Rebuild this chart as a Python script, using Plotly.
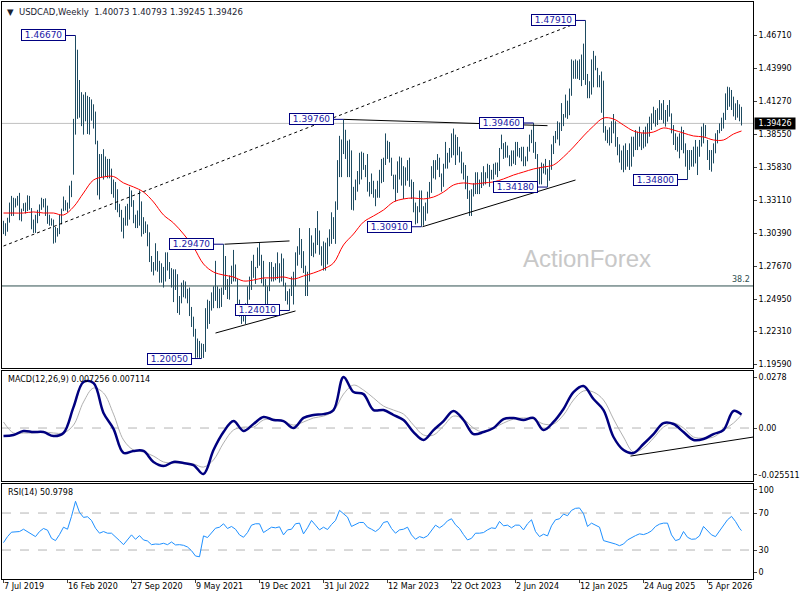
import plotly.graph_objects as go

# weekly bars, one per week starting 7 Jul 2019 (bar index 0)
high = [
    1.3140, 1.3120, 1.3165, 1.3290, 1.3345, 1.3330, 1.3325, 1.3345, 1.3370, 1.3240,
    1.3285, 1.3290, 1.3350, 1.3345, 1.3245, 1.3150, 1.3190, 1.3230, 1.3275, 1.3330,
    1.3320, 1.3325, 1.3265, 1.3190, 1.3160, 1.3150, 1.3090, 1.3080, 1.3190, 1.3240,
    1.3340, 1.3310, 1.3290, 1.3430, 1.3470, 1.3980, 1.4667, 1.4550, 1.4300, 1.4200,
    1.4180, 1.4200, 1.4170, 1.4160, 1.4140, 1.4100, 1.4040, 1.3800, 1.3690, 1.3690,
    1.3730, 1.3670, 1.3650, 1.3650, 1.3570, 1.3480, 1.3460, 1.3400, 1.3280, 1.3230,
    1.3165, 1.3260, 1.3280, 1.3420, 1.3390, 1.3310, 1.3190, 1.3225, 1.3390, 1.3300,
    1.3170, 1.3135, 1.3110, 1.3045, 1.2850, 1.2800, 1.2955, 1.2890, 1.2810, 1.2790,
    1.2760, 1.2880, 1.2880, 1.2800, 1.2750, 1.2740, 1.2740, 1.2700, 1.2520, 1.2630,
    1.2650, 1.2640, 1.2580, 1.2590, 1.2430, 1.2350, 1.2250, 1.2170, 1.2150, 1.2130,
    1.2125, 1.2420, 1.2490, 1.2480, 1.2550, 1.2600, 1.2810, 1.2600, 1.2580, 1.2590,
    1.2947, 1.2850, 1.2660, 1.2690, 1.2770, 1.2900, 1.2780, 1.2660, 1.2490, 1.2415,
    1.2420, 1.2460, 1.2600, 1.2680, 1.2810, 1.2860, 1.2760, 1.2920, 1.2960, 1.2860,
    1.2810, 1.2660, 1.2600, 1.2800, 1.2800, 1.2760, 1.2790, 1.2880, 1.2790, 1.2870,
    1.2830, 1.2630, 1.2560, 1.2580, 1.2680, 1.2720, 1.2880, 1.2930, 1.3080, 1.2990,
    1.2890, 1.2770, 1.2720, 1.3080, 1.3020, 1.2960, 1.3080, 1.3220, 1.3060, 1.2930,
    1.2970, 1.2960, 1.3000, 1.3070, 1.3210, 1.3170, 1.3300, 1.3640, 1.3840, 1.3810,
    1.3976, 1.3890, 1.3800, 1.3810, 1.3720, 1.3420, 1.3480, 1.3550, 1.3700, 1.3710,
    1.3700, 1.3600, 1.3690, 1.3460, 1.3530, 1.3470, 1.3400, 1.3470, 1.3560, 1.3650,
    1.3660, 1.3860, 1.3800, 1.3790, 1.3660, 1.3520, 1.3520, 1.3630, 1.3670, 1.3660,
    1.3590, 1.3580, 1.3640, 1.3660, 1.3480, 1.3460, 1.3290, 1.3260, 1.3390, 1.3390,
    1.3260, 1.3290, 1.3380, 1.3460, 1.3590, 1.3640, 1.3640, 1.3690, 1.3660, 1.3530,
    1.3610, 1.3790, 1.3700, 1.3740, 1.3860, 1.3900, 1.3850, 1.3830, 1.3750, 1.3710,
    1.3620, 1.3600, 1.3510, 1.3390, 1.3400, 1.3450, 1.3540, 1.3540, 1.3480, 1.3540,
    1.3590, 1.3540, 1.3610, 1.3600, 1.3560, 1.3610, 1.3620, 1.3620, 1.3740, 1.3850,
    1.3780, 1.3790, 1.3760, 1.3680, 1.3720, 1.3720, 1.3790, 1.3790, 1.3740, 1.3750,
    1.3750, 1.3670, 1.3750, 1.3850, 1.3890, 1.3946, 1.3790, 1.3690, 1.3580, 1.3620,
    1.3610, 1.3650, 1.3570, 1.3640, 1.3770, 1.3840, 1.3880, 1.3960, 1.3950, 1.4110,
    1.4020, 1.4180, 1.4130, 1.4230, 1.4470, 1.4460, 1.4470, 1.4460, 1.4470, 1.4510,
    1.4600, 1.4791, 1.4350, 1.4290, 1.4470, 1.4540, 1.4500, 1.4400, 1.4340, 1.4370,
    1.4295, 1.3920, 1.3890, 1.3910, 1.3960, 1.4020, 1.3960, 1.3830, 1.3770, 1.3720,
    1.3760, 1.3778, 1.3723, 1.3778, 1.3833, 1.3833, 1.3888, 1.3874, 1.3916, 1.3861,
    1.3888, 1.3916, 1.3943, 1.3998, 1.4025, 1.4080, 1.4053, 1.4067, 1.4135, 1.4108,
    1.4135, 1.4053, 1.4094, 1.4135, 1.4025, 1.3929, 1.3861, 1.3833, 1.3861, 1.3916,
    1.3888, 1.3778, 1.3723, 1.3723, 1.3723, 1.3751, 1.3806, 1.3751, 1.3806, 1.3916,
    1.3943, 1.3929, 1.3806, 1.3723, 1.3723, 1.3778, 1.3861, 1.3888, 1.3943, 1.3990,
    1.4030, 1.4190, 1.4245, 1.4240, 1.4218, 1.4163, 1.4108, 1.4135, 1.4100, 1.4079,
]
low = [
    1.3030, 1.3016, 1.3050, 1.3125, 1.3180, 1.3180, 1.3250, 1.3265, 1.3145, 1.3135,
    1.3220, 1.3200, 1.3220, 1.3230, 1.3070, 1.3040, 1.3040, 1.3120, 1.3180, 1.3230,
    1.3250, 1.3180, 1.3115, 1.3100, 1.3100, 1.2952, 1.2960, 1.3010, 1.3030, 1.3110,
    1.3220, 1.3225, 1.3210, 1.3240, 1.3335, 1.3520, 1.3850, 1.3980, 1.3990, 1.3920,
    1.3850, 1.3960, 1.3855, 1.3850, 1.3965, 1.3900, 1.3770, 1.3350, 1.3315, 1.3500,
    1.3480, 1.3500, 1.3490, 1.3490, 1.3360, 1.3330, 1.3230, 1.3210, 1.3170, 1.3050,
    1.2995, 1.3100, 1.3100, 1.3150, 1.3255, 1.3120, 1.3080, 1.3080, 1.3100, 1.3010,
    1.3030, 1.3040, 1.2930, 1.2800, 1.2720, 1.2690, 1.2730, 1.2720, 1.2630, 1.2630,
    1.2590, 1.2640, 1.2730, 1.2660, 1.2590, 1.2470, 1.2570, 1.2380, 1.2365, 1.2460,
    1.2510, 1.2500, 1.2460, 1.2355, 1.2265, 1.2185, 1.2010, 1.2012, 1.2010, 1.2005,
    1.2010, 1.2060, 1.2250, 1.2290, 1.2400, 1.2420, 1.2480, 1.2420, 1.2420, 1.2430,
    1.2530, 1.2570, 1.2495, 1.2490, 1.2620, 1.2640, 1.2640, 1.2450, 1.2350, 1.2290,
    1.2310, 1.2290, 1.2420, 1.2490, 1.2570, 1.2670, 1.2620, 1.2750, 1.2770, 1.2625,
    1.2600, 1.2450, 1.2450, 1.2560, 1.2640, 1.2640, 1.2650, 1.2660, 1.2630, 1.2640,
    1.2600, 1.2480, 1.2450, 1.2401, 1.2520, 1.2450, 1.2600, 1.2770, 1.2860, 1.2750,
    1.2710, 1.2520, 1.2520, 1.2640, 1.2850, 1.2840, 1.2870, 1.2940, 1.2860, 1.2770,
    1.2730, 1.2730, 1.2780, 1.2930, 1.2950, 1.2990, 1.2950, 1.3230, 1.3500, 1.3500,
    1.3690, 1.3650, 1.3500, 1.3500, 1.3230, 1.3225, 1.3310, 1.3380, 1.3440, 1.3480,
    1.3560, 1.3500, 1.3380, 1.3340, 1.3360, 1.3330, 1.3260, 1.3330, 1.3330, 1.3450,
    1.3460, 1.3600, 1.3650, 1.3620, 1.3510, 1.3400, 1.3300, 1.3370, 1.3480, 1.3430,
    1.3320, 1.3430, 1.3470, 1.3420, 1.3320, 1.3210, 1.3110, 1.3120, 1.3210, 1.3091,
    1.3100, 1.3140, 1.3200, 1.3330, 1.3370, 1.3490, 1.3480, 1.3560, 1.3500, 1.3380,
    1.3420, 1.3570, 1.3570, 1.3620, 1.3660, 1.3680, 1.3600, 1.3680, 1.3620, 1.3530,
    1.3480, 1.3400, 1.3320, 1.3180, 1.3180, 1.3340, 1.3360, 1.3360, 1.3360, 1.3410,
    1.3430, 1.3440, 1.3490, 1.3420, 1.3480, 1.3480, 1.3520, 1.3500, 1.3550, 1.3730,
    1.3650, 1.3660, 1.3660, 1.3590, 1.3590, 1.3610, 1.3600, 1.3670, 1.3660, 1.3630,
    1.3590, 1.3590, 1.3630, 1.3710, 1.3780, 1.3700, 1.3650, 1.3440, 1.3440, 1.3440,
    1.3530, 1.3520, 1.3418, 1.3470, 1.3560, 1.3690, 1.3780, 1.3810, 1.3760, 1.3880,
    1.3920, 1.3990, 1.3980, 1.4010, 1.4170, 1.4310, 1.4310, 1.4310, 1.4300, 1.4250,
    1.4300, 1.4260, 1.4150, 1.4150, 1.4180, 1.4240, 1.4380, 1.4240, 1.4240, 1.4030,
    1.3866, 1.3800, 1.3780, 1.3760, 1.3780, 1.3860, 1.3750, 1.3680, 1.3620, 1.3560,
    1.3540, 1.3560, 1.3586, 1.3559, 1.3586, 1.3668, 1.3723, 1.3723, 1.3751, 1.3723,
    1.3737, 1.3751, 1.3778, 1.3833, 1.3888, 1.3943, 1.3916, 1.3929, 1.3971, 1.3971,
    1.3943, 1.3916, 1.3957, 1.3998, 1.3861, 1.3765, 1.3723, 1.3710, 1.3655, 1.3723,
    1.3696, 1.3586, 1.3480, 1.3559, 1.3586, 1.3586, 1.3613, 1.3517, 1.3668, 1.3751,
    1.3778, 1.3833, 1.3641, 1.3559, 1.3545, 1.3613, 1.3696, 1.3778, 1.3861, 1.3880,
    1.3900, 1.3971, 1.4053, 1.4080, 1.4053, 1.4000, 1.3971, 1.3990, 1.3960, 1.3925,
]

# moving average, MACD and signal read every 5 bars (last point = last bar)
ma55 = [
    1.3204, 1.3204, 1.3204, 1.3213, 1.3204, 1.3204, 1.3188, 1.3254, 1.3369, 1.3476,
    1.3501, 1.3505, 1.3452, 1.3419, 1.3377, 1.3295, 1.3188, 1.3122, 1.3031, 1.2924,
    1.2784, 1.2718, 1.2693, 1.2677, 1.2644, 1.2652, 1.2669, 1.2669, 1.2677, 1.2660,
    1.2685, 1.2710, 1.2743, 1.2792, 1.2941, 1.3031, 1.3130, 1.3180, 1.3229, 1.3295,
    1.3320, 1.3328, 1.3320, 1.3336, 1.3377, 1.3435, 1.3452, 1.3443, 1.3452, 1.3460,
    1.3485, 1.3517, 1.3542, 1.3567, 1.3583, 1.3600, 1.3666, 1.3748, 1.3839, 1.3921,
    1.3987, 1.3979, 1.3929, 1.3880, 1.3863, 1.3872, 1.3905, 1.3888, 1.3863, 1.3839,
    1.3831, 1.3806, 1.3806, 1.3855, 1.3880,
]
macd_main = [
    -0.0044, -0.0038, -0.0016, -0.0022, -0.0022, -0.0044, -0.0027, 0.0114, 0.0251, 0.0245,
    0.0082, -0.0005, -0.0136, -0.0125, -0.0125, -0.0185, -0.0207, -0.0185, -0.0191, -0.0202,
    -0.0251, -0.0120, -0.0022, 0.0038, -0.0016, 0.0022, 0.0060, 0.0044, 0.0038, 0.0000,
    0.0055, 0.0071, 0.0076, 0.0098, 0.0278, 0.0196, 0.0185, 0.0098, 0.0098, 0.0071,
    0.0044, -0.0022, -0.0065, -0.0011, 0.0038, 0.0093, 0.0044, -0.0033, -0.0022, 0.0000,
    0.0049, 0.0055, 0.0044, 0.0055, -0.0011, 0.0033, 0.0104, 0.0196, 0.0229, 0.0158,
    0.0098, -0.0049, -0.0120, -0.0136, -0.0087, -0.0033, 0.0027, 0.0022, -0.0022, -0.0065,
    -0.0060, -0.0033, -0.0011, 0.0093, 0.0073,
]
macd_signal = [
    0.0033, -0.0027, -0.0027, -0.0027, -0.0022, -0.0027, -0.0027, 0.0016, 0.0142, 0.0218,
    0.0191, 0.0076, -0.0065, -0.0120, -0.0131, -0.0153, -0.0185, -0.0191, -0.0191, -0.0196,
    -0.0213, -0.0174, -0.0082, -0.0011, 0.0005, 0.0005, 0.0044, 0.0049, 0.0038, 0.0016,
    0.0033, 0.0055, 0.0065, 0.0093, 0.0185, 0.0234, 0.0207, 0.0164, 0.0120, 0.0098,
    0.0076, 0.0016, -0.0038, -0.0038, 0.0011, 0.0065, 0.0049, 0.0000, -0.0022, 0.0000,
    0.0027, 0.0049, 0.0055, 0.0049, 0.0022, 0.0022, 0.0071, 0.0153, 0.0202, 0.0196,
    0.0153, 0.0049, -0.0049, -0.0131, -0.0109, -0.0055, 0.0005, 0.0027, 0.0000, -0.0049,
    -0.0055, -0.0049, -0.0011, 0.0027, 0.0071,
]

# RSI(14) read every 2 bars (last point = last bar)
rsi14 = [
    38.0, 44.5, 49.3, 49.6, 50.0, 52.5, 49.6, 47.5, 44.5, 50.0,
    53.3, 51.5, 42.7, 40.2, 46.7, 54.7, 52.5, 66.4, 82.7, 70.7,
    65.3, 66.0, 62.0, 53.6, 48.2, 50.0, 48.2, 48.2, 44.5, 40.2,
    35.8, 40.9, 46.4, 41.6, 45.6, 40.9, 39.8, 35.8, 36.5, 36.2,
    37.3, 35.8, 38.7, 35.5, 35.8, 35.1, 33.3, 29.3, 23.5, 22.7,
    45.3, 43.5, 48.9, 53.6, 54.7, 58.4, 53.3, 55.5, 52.5, 46.4,
    43.8, 48.9, 56.9, 58.4, 58.4, 48.9, 51.8, 54.7, 54.0, 55.1,
    46.4, 51.8, 52.5, 58.4, 59.1, 47.5, 54.0, 62.0, 56.9, 51.8,
    54.7, 52.2, 57.6, 62.0, 72.9, 69.3, 65.6, 55.5, 57.3, 59.8,
    59.8, 54.7, 52.5, 50.0, 53.3, 59.8, 60.9, 53.3, 48.2, 51.8,
    52.5, 54.7, 46.4, 41.6, 44.5, 43.1, 45.3, 51.8, 56.9, 54.0,
    56.9, 61.6, 63.8, 57.3, 53.3, 46.7, 40.9, 42.7, 48.2, 48.2,
    48.9, 51.8, 54.0, 53.3, 60.9, 56.2, 56.9, 54.0, 56.9, 56.9,
    51.8, 58.4, 62.7, 50.0, 44.5, 47.1, 45.3, 56.2, 62.7, 63.8,
    68.9, 67.1, 72.9, 75.1, 75.5, 69.3, 55.5, 59.1, 57.3, 54.7,
    40.2, 39.1, 38.0, 36.5, 34.7, 36.5, 40.9, 43.5, 45.6, 47.5,
    46.7, 48.2, 50.7, 55.5, 58.0, 59.1, 59.1, 46.4, 40.2, 41.6,
    50.0, 43.8, 41.6, 42.0, 45.3, 55.5, 51.1, 46.4, 44.5, 50.7,
    55.5, 62.7, 66.4, 60.9, 53.6, 51.0,
]

date_labels = ["7 Jul 2019", "16 Feb 2020", "27 Sep 2020", "9 May 2021", "19 Dec 2021",
               "31 Jul 2022", "12 Mar 2023", "22 Oct 2023", "2 Jun 2024", "12 Jan 2025",
               "24 Aug 2025", "5 Apr 2026"]
date_step = 32

price_ticks = [1.46710, 1.43990, 1.41270, 1.38550, 1.35830, 1.33110, 1.30390,
               1.27670, 1.24950, 1.22310, 1.19590]
macd_ticks = [0.0278, 0.0, -0.025511]
macd_ticktext = ["0.0278", "0.00", "-0.025511"]
rsi_ticktext = ["100", "70", "30", "0"]

# swing highs / lows marked on the chart
swing_bar = [36, 99, 110, 143, 170, 209, 265, 272, 291, 342]
swing_price = [1.4667, 1.2005, 1.2947, 1.2401, 1.3976, 1.3091, 1.3946, 1.3418, 1.4791, 1.3480]

# hand-drawn lines (bar, price) -> (bar, price)
trend_lines = [
    ((0, 1.2932), (286, 1.4765), "dot"),
    ((170, 1.3976), (272, 1.3924), "solid"),
    ((209.5, 1.3091), (286, 1.3476), "solid"),
    ((110.5, 1.2947), (143, 1.2974), "solid"),
    ((106, 1.2215), (146, 1.2397), "solid"),
]
macd_line = ((313.5, -0.0153), (375, -0.0049))

last_price = 1.39426
fib_level = 1.2603

BAR = "#1e4b61"
FONT = "DejaVu Sans"
XR = [-0.75, 374.75]
n = len(high)

fig = go.Figure()

bx, by = [], []
for i, (h, l) in enumerate(zip(high, low)):
    bx += [i, i, None]
    by += [l, h, None]
fig.add_trace(go.Scatter(x=bx, y=by, mode="lines", line=dict(color=BAR, width=1),
                         xaxis="x", yaxis="y", hoverinfo="skip"))

ma_x = [min(5 * k, n - 1) for k in range(len(ma55))]
fig.add_trace(go.Scatter(x=ma_x, y=ma55, mode="lines", line=dict(color="red", width=1, shape="spline"),
                         xaxis="x", yaxis="y"))

fig.add_trace(go.Scatter(x=ma_x, y=macd_signal, mode="lines",
                         line=dict(color="#b0b0b0", width=1, shape="spline"), xaxis="x2", yaxis="y2"))
fig.add_trace(go.Scatter(x=ma_x, y=macd_main, mode="lines",
                         line=dict(color="#00007f", width=2.5, shape="spline"), xaxis="x2", yaxis="y2"))

rsi_x = [min(2 * k, n - 1) for k in range(len(rsi14))]
fig.add_trace(go.Scatter(x=rsi_x, y=rsi14, mode="lines", line=dict(color="#1e90ff", width=1),
                         xaxis="x3", yaxis="y3"))

shapes = []
shapes.append(dict(type="line", xref="paper", yref="y", x0=0, x1=1, y0=last_price, y1=last_price,
                   line=dict(color="#c0c0c0", width=1), layer="below"))
shapes.append(dict(type="line", xref="paper", yref="y", x0=0, x1=1, y0=fib_level, y1=fib_level,
                   line=dict(color="#2f4f4f", width=1)))
for (xa, ya), (xb, yb), dash in trend_lines:
    shapes.append(dict(type="line", xref="x", yref="y", x0=xa, y0=ya, x1=xb, y1=yb,
                       line=dict(color="black", width=1, dash=dash)))
(xa, ya), (xb, yb) = macd_line
shapes.append(dict(type="line", xref="x2", yref="y2", x0=xa, y0=ya, x1=xb, y1=yb,
                   line=dict(color="black", width=1)))
shapes.append(dict(type="line", xref="paper", yref="y2", x0=0, x1=1, y0=0, y1=0,
                   line=dict(color="#b4b4b4", width=1, dash="dash"), layer="below"))
for lvl in (70, 30):
    shapes.append(dict(type="line", xref="paper", yref="y3", x0=0, x1=1, y0=lvl, y1=lvl,
                       line=dict(color="#b4b4b4", width=1, dash="dash"), layer="below"))
for b, p in zip(swing_bar, swing_price):
    shapes.append(dict(type="line", xref="x", yref="y", x0=b - 5, x1=b, y0=p, y1=p,
                       line=dict(color="#000080", width=1)))

ann = []
for b, p in zip(swing_bar, swing_price):
    ann.append(dict(x=b - 5, y=p, xref="x", yref="y", xanchor="right", yanchor="middle",
                    text="\u00a0%.5f\u00a0" % p, showarrow=False, bgcolor="white",
                    bordercolor="#000080", borderwidth=1, borderpad=0,
                    font=dict(family=FONT, size=9, color="#1a1aa6")))
for k, t in enumerate(date_labels):
    ann.append(dict(x=k * date_step, y=0, xref="x3", yref="paper", xanchor="left", yanchor="top",
                    xshift=-2, yshift=-1, text=t, showarrow=False,
                    font=dict(family=FONT, size=8, color="black")))
ann.append(dict(x=0, y=1, xref="paper", yref="paper", xanchor="left", yanchor="top", xshift=3, yshift=-3,
                text="\u25bc\u00a0\u00a0USDCAD,Weekly\u00a0\u00a01.40073 1.40793 1.39245 1.39426",
                showarrow=False, font=dict(family=FONT, size=8.5, color="#1a2230")))
ann.append(dict(x=0, y=0.3605, xref="paper", yref="paper", xanchor="left", yanchor="top", xshift=4, yshift=-2,
                text="MACD(12,26,9) 0.007256 0.007114", showarrow=False,
                font=dict(family=FONT, size=8, color="black")))
ann.append(dict(x=0, y=0.1646, xref="paper", yref="paper", xanchor="left", yanchor="top", xshift=4, yshift=-2,
                text="RSI(14) 50.9798", showarrow=False, font=dict(family=FONT, size=8, color="black")))
ann.append(dict(x=1, y=fib_level, xref="paper", yref="y", xanchor="right", yanchor="bottom", xshift=-1,
                text="38.2", showarrow=False, font=dict(family=FONT, size=8, color="#2f4f4f")))
ann.append(dict(x=1, y=last_price, xref="paper", yref="y", xanchor="left", yanchor="middle", xshift=1,
                text="\u00a01.39426\u00a0", showarrow=False, bgcolor="black", borderpad=1,
                font=dict(family=FONT, size=8, color="white")))
ann.append(dict(x=0.779, y=0.556, xref="paper", yref="paper", xanchor="center", yanchor="middle",
                text="ActionForex", showarrow=False,
                font=dict(family="Liberation Sans", size=24, color="#c8c8c8")))

frame = dict(showline=True, mirror=True, linecolor="black", linewidth=1, showgrid=False,
             zeroline=False, automargin=False)
xbase = dict(range=XR, showticklabels=False, ticks="", **frame)

fig.update_layout(
    width=800, height=600, margin=dict(l=2, r=47, t=2, b=21),
    paper_bgcolor="white", plot_bgcolor="white", showlegend=False,
    font=dict(family=FONT, size=8, color="black"),
    xaxis=dict(anchor="y", **xbase),
    xaxis2=dict(anchor="y2", matches="x", **xbase),
    xaxis3=dict(anchor="y3", matches="x", range=XR, showticklabels=True, ticks="outside", ticklen=3,
                tickvals=[k * date_step for k in range(len(date_labels))],
                ticktext=[""] * len(date_labels), **frame),
    yaxis=dict(domain=[0.3657, 1.0], range=[1.1927, 1.4943], side="right", anchor="x",
               tickvals=price_ticks, ticktext=["%.5f" % v for v in price_ticks],
               ticks="outside", ticklen=3, tickfont=dict(size=8), **frame),
    yaxis2=dict(domain=[0.1698, 0.3605], range=[-0.0289, 0.0311], side="right", anchor="x2",
                tickvals=macd_ticks, ticktext=macd_ticktext,
                ticks="outside", ticklen=3, tickfont=dict(size=8), **frame),
    yaxis3=dict(domain=[0.0, 0.1646], range=[-1.35, 101.4], side="right", anchor="x3",
                tickvals=[95, 70, 30, 6], ticktext=rsi_ticktext,
                ticks="outside", ticklen=3, tickfont=dict(size=8), **frame),
    shapes=shapes, annotations=ann,
)

# the page body has a default 8px margin, drop it so the 800x600 figure fills the window
fig.write_html("out.html", config={"displayModeBar": False},
               post_script="document.body.style.margin='0';")
